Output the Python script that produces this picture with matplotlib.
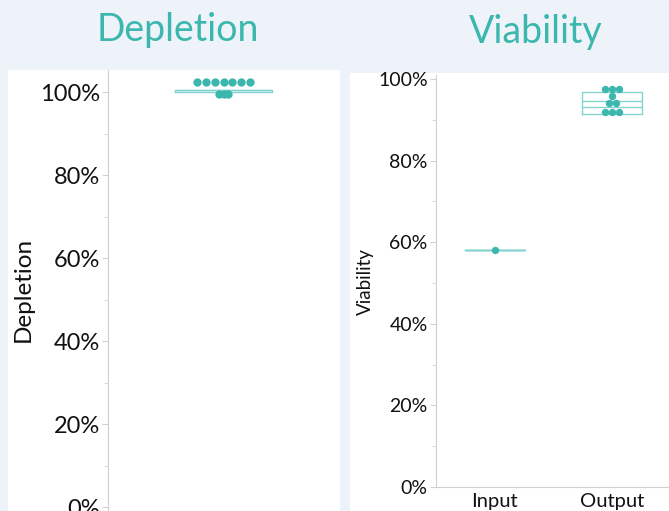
import numpy as np
import matplotlib
matplotlib.use("Agg")
import matplotlib.pyplot as plt
from matplotlib.patches import Rectangle
from matplotlib.ticker import MultipleLocator, PercentFormatter

# depletion per sample (%)
depletion_values = [102.4, 102.4, 102.4, 102.4, 102.4, 102.4, 102.4, 99.4, 99.6, 99.4]
depletion_box = dict(q1=99.9, med=100.55, q3=100.55, whislo=99.9, whishi=100.55)

# viability per group (%)
viab_groups = ["Input", "Output"]
viab_input = [58.1]
viab_output = [97.5, 97.5, 97.5, 95.9, 94.2, 94.2, 92.0, 92.0, 92.0]
viab_input_box = dict(q1=58.1, med=58.1, q3=58.1, whislo=58.1, whishi=58.1, mean=58.1)
viab_output_box = dict(q1=91.4, med=94.6, q3=96.9, whislo=91.4, whishi=96.9, mean=93.1)

teal = "#3cb7ae"
box_col = "#86d4cf"
bg = "#eef3fa"
W, H = 669, 511

fig = plt.figure(figsize=(W / 100, H / 100), dpi=100, facecolor=bg)
plt.rcParams["font.family"] = ["Lato", "DejaVu Sans"]


def px_axes(x0, x1, y0, y1):
    # pixel box (top-left origin) -> figure fraction
    return fig.add_axes([x0 / W, 1 - y1 / H, (x1 - x0) / W, (y1 - y0) / H])


def swarm_offsets(vals, step):
    # spread equal values side by side around the group centre
    vals = np.asarray(vals)
    off = np.zeros(len(vals))
    for v in np.unique(vals):
        idx = np.where(vals == v)[0]
        n = len(idx)
        off[idx] = (np.arange(n) - (n - 1) / 2) * step
    return off


def style_axis(ax, size):
    ax.patch.set_alpha(0)
    for s in ["top", "right"]:
        ax.spines[s].set_visible(False)
    ax.spines["left"].set_color("#d0d0d0")
    ax.spines["bottom"].set_color("#d0d0d0")
    ax.yaxis.set_major_locator(MultipleLocator(20))
    ax.yaxis.set_minor_locator(MultipleLocator(10))
    ax.yaxis.set_major_formatter(PercentFormatter(decimals=0))
    ax.tick_params(axis="y", which="major", length=4, color="#d0d0d0",
                   labelsize=size, labelcolor="#111111", pad=2)
    ax.tick_params(axis="y", which="minor", length=3, color="#d0d0d0")


box_kw = dict(showfliers=False, showcaps=False, manage_ticks=False,
              boxprops=dict(color=box_col, lw=1), medianprops=dict(color=box_col, lw=1),
              whiskerprops=dict(color=box_col, lw=1))

# white panel backgrounds
fig.patches.append(Rectangle((8 / W, 0), 332 / W, 1 - 70 / H, transform=fig.transFigure,
                             facecolor="white", edgecolor="none", zorder=-5))
fig.patches.append(Rectangle((350 / W, 0), 320 / W, 1 - 73 / H, transform=fig.transFigure,
                             facecolor="white", edgecolor="none", zorder=-5))

# ---- Depletion ----
ax1 = px_axes(108, 339, 70, 528)
ax1.bxp([depletion_box], positions=[0], widths=0.42, **box_kw)
x1 = swarm_offsets(depletion_values, 0.0377)
ax1.plot(x1, depletion_values, "o", color=teal, ms=6, mec="none", zorder=3)
ax1.set_ylim(-5, 105.3)
ax1.set_xlim(-0.5, 0.5)
style_axis(ax1, 17)
ax1.spines["bottom"].set_visible(False)
ax1.set_xticks([])
fig.text(23 / W, 1 - 289 / H, "Depletion", rotation=90, ha="center", va="center",
         fontsize=17.5, color="#111111")
fig.text(178 / W, 1 - 30 / H, "Depletion", ha="center", va="center",
         fontsize=27, color=teal)

# ---- Viability ----
ax2 = px_axes(436, 671, 75, 487)
ax2.bxp([viab_input_box, viab_output_box], positions=[0, 1], widths=0.51,
        showmeans=True, meanline=True, meanprops=dict(color=box_col, lw=1, ls="-"),
        **box_kw)
ax2.plot(swarm_offsets(viab_input, 0.06), viab_input, "o", color=teal, ms=5.3,
         mec="none", zorder=3)
ax2.plot(1 + swarm_offsets(viab_output, 0.06), viab_output, "o", color=teal, ms=5.3,
         mec="none", zorder=3)
ax2.set_ylim(0, 101)
ax2.set_xlim(-0.5, 1.5)
style_axis(ax2, 14)
ax2.set_xticks(range(len(viab_groups)))
ax2.set_xticklabels(viab_groups)
ax2.tick_params(axis="x", length=0, labelsize=14.5, labelcolor="#111111", pad=4)
fig.text(365 / W, 1 - 282 / H, "Viability", rotation=90, ha="center", va="center",
         fontsize=13.5, color="#111111")
fig.text(536 / W, 1 - 32 / H, "Viability", ha="center", va="center",
         fontsize=27, color=teal)

fig.savefig("out.png", dpi=100, facecolor=bg)
